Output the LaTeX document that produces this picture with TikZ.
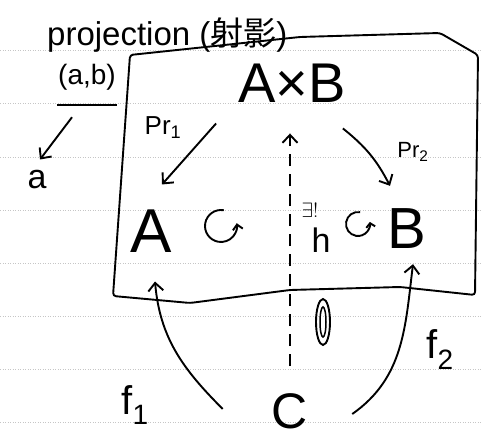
\documentclass[tikz,border=0pt]{standalone}
\usepackage{fontspec}
\setmainfont{Liberation Sans}
\newfontfamily\cjk{Noto Sans CJK JP}
\usetikzlibrary{arrows.meta, calc}

\begin{document}
\begin{tikzpicture}[
    x=1pt, y=1pt,
    hand/.style={inner sep=1pt, font=\fontsize{#1}{#1}\selectfont},
    arrow/.style={-{Straight Barb[length=8pt, width=15pt]}, line width=1.9pt},
    ruled/.style={gray!45, dotted, line width=0.5pt},
    frame/.style={line width=1.9pt, rounded corners=3pt}
]
    \useasboundingbox (0,0) rectangle (482,441);
    % Paper lines
    \foreach \y in {391, 338, 284, 231, 178, 125, 72, 19}
        \draw[ruled] (0,\y) -- (482,\y);

    % Frame
    \draw[frame] (130,386) -- (300,404) -- (440,408) -- (478,386) -- (475,146)
        -- (400,154) -- (290,151) -- (190,138) -- (113,145) -- cycle;

    % Nodes
    \node[hand=33, anchor=west] (title) at (46,406) {projection ({\cjk 射影})};
    \node[hand=28] (pair) at (87,364) {(a,b)};
    \node[hand=34] (a) at (37,261) {a};
    \node[hand=56] (AxB) at (292,358) {A×B};
    \node[hand=62] (A) at (151,210) {A};
    \node[hand=58] (B) at (407,212) {B};
    \node[hand=50] (C) at (290,30) {C};

    % Labels
    \node[hand=26] (pr1) at (163,313) {Pr\textsubscript{1}};
    \node[hand=22] (pr2) at (413,289) {Pr\textsubscript{2}};
    \node[hand=22] (uniq) at (310,231) {$\exists!$};
    \node[hand=34] (h) at (321,201) {h};
    \node[hand=40] (f1) at (135,36) {f\textsubscript{1}};
    \node[hand=40] (f2) at (440,91) {f\textsubscript{2}};

    % Arrows
    \draw[line width=1.9pt] ([yshift=-14pt]pair.south west) -- ([yshift=-14pt]pair.south east);
    \draw[arrow] ([shift={(-15pt,-26pt)}]pair.south) -- ([shift={(3pt,10pt)}]a.north);
    \draw[arrow] ([shift={(-21pt,-20pt)}]AxB.south west) -- ([shift={(11pt,24pt)}]A.north);
    \draw[arrow] ([shift={(-4pt,-25pt)}]AxB.south east) to[bend left=12] ([shift={(-17pt,22pt)}]B.north);
    \draw[arrow, dash pattern=on 12pt off 8pt, shorten <=26pt, shorten >=30pt] (C.north) -- (C.north |- AxB.south);
    \draw[arrow] ([shift={(-48pt,2pt)}]C.west) to[out=135, in=-85] ([shift={(4pt,-28pt)}]A.south);
    \draw[arrow] ([shift={(43pt,-3pt)}]C.east) to[out=35, in=-97] ([shift={(6pt,-14pt)}]B.south);

    % Commutativity marks
    \draw[line width=1.9pt, -{Straight Barb[length=5pt, width=10pt]}] (221,215) ++(80:16pt) arc[start angle=80, end angle=370, radius=16pt];
    \draw[line width=1.9pt, -{Straight Barb[length=4pt, width=9pt]}] (358,217) ++(80:12pt) arc[start angle=80, end angle=370, radius=12pt];
    \draw[line width=1.9pt] (323,119) ellipse [x radius=7pt, y radius=23pt];
    \draw[line width=1.5pt] (323,119) ellipse [x radius=3pt, y radius=15pt];
\end{tikzpicture}
\end{document}
